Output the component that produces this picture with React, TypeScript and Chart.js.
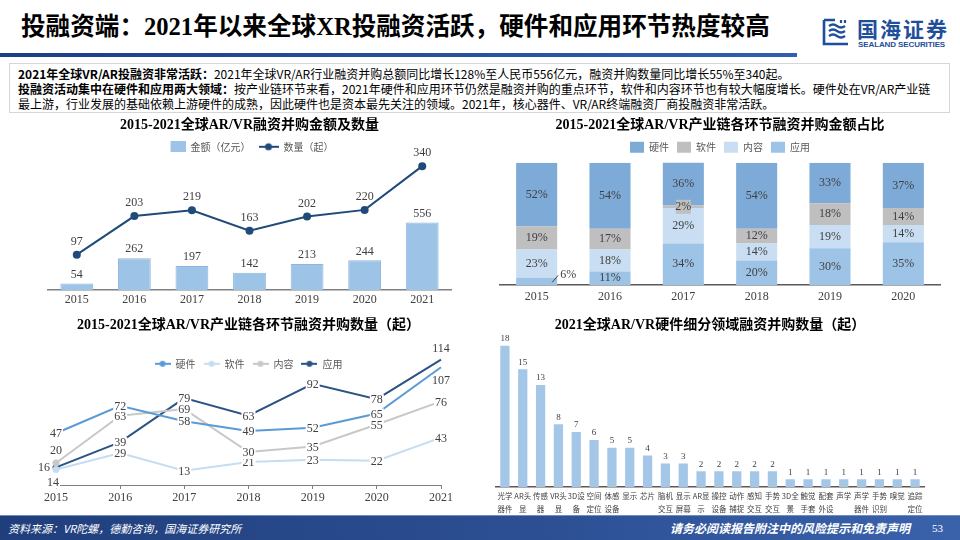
import React, { useEffect, useRef } from 'react';
import { Chart, registerables } from 'chart.js';

Chart.register(...registerables);

const SERIF = '"Liberation Serif", "Times New Roman", "Noto Sans CJK SC", serif';
const SANS = '"Noto Sans CJK SC", "Liberation Sans", sans-serif';
const TITLE_FONT = '"Liberation Serif", "Noto Sans CJK SC", serif';

// ---------- Chart 1: amount & count ----------
const years = ['2015', '2016', '2017', '2018', '2019', '2020', '2021'];
const amountYi = [54, 262, 197, 142, 213, 244, 556];
const dealCount = [97, 203, 219, 163, 202, 220, 340];

// ---------- Chart 2: share by segment ----------
const shareYears = ['2015', '2016', '2017', '2018', '2019', '2020'];
const shareHardware = [52, 54, 36, 54, 33, 37];
const shareSoftware = [19, 17, 2, 12, 18, 14];
const shareContent = [23, 18, 29, 14, 19, 14];
const shareApp = [6, 11, 34, 20, 30, 35];

// ---------- Chart 3: deal count by segment ----------
const cntHardware = [47, 72, 58, 49, 52, 65, 107];
const cntSoftware = [14, 29, 13, 21, 23, 22, 43];
const cntContent = [20, 63, 69, 30, 35, 55, 76];
const cntApp = [16, 39, 79, 63, 92, 78, 114];

// ---------- Chart 4: hardware sub-fields 2021 ----------
const hwSegments = [
  ['光学', '器件'], ['AR头', '显'], ['传感', '器'], ['VR头', '显'], ['3D设', '备'], ['空间', '定位'],
  ['体感', '设备'], ['显示'], ['芯片'], ['脑机', '交互'], ['显示', '屏幕'], ['AR显', '示'],
  ['操控', '设备'], ['动作', '捕捉'], ['感知', '交互'], ['手势', '交互'], ['3D全', '景'], ['触觉', '手套'],
  ['配套', '外设'], ['声学'], ['声学', '器件'], ['手势', '识别'], ['嗅觉'], ['追踪', '定位'],
];
const hwCounts = [18, 15, 13, 8, 7, 6, 5, 5, 4, 3, 3, 2, 2, 2, 2, 2, 1, 1, 1, 1, 1, 1, 1, 1];

const C_HW = '#7EAAD8';
const C_SW = '#BFBFBF';
const C_CT = '#C9DEF2';
const C_AP = '#9DC3E6';

function lineDotImage(color: string, w: number, h: number, r: number) {
  const c = document.createElement('canvas');
  c.width = w; c.height = h;
  const ctx = c.getContext('2d')!;
  ctx.strokeStyle = color; ctx.lineWidth = 2;
  ctx.beginPath(); ctx.moveTo(0, h / 2); ctx.lineTo(w, h / 2); ctx.stroke();
  ctx.fillStyle = color;
  ctx.beginPath(); ctx.arc(w / 2, h / 2, r, 0, Math.PI * 2); ctx.fill();
  return c;
}
function rectImage(color: string, w: number, h: number, bw: number, bh: number) {
  const c = document.createElement('canvas');
  c.width = w; c.height = h;
  const ctx = c.getContext('2d')!;
  ctx.fillStyle = color;
  ctx.fillRect(w - bw, (h - bh) / 2, bw, bh);
  return c;
}

function makeChart1(canvas: HTMLCanvasElement) {
  const imgs = [rectImage(C_AP, 20, 11, 15, 11), lineDotImage('#1F4A7A', 20, 10, 3.5)];
  const labels1 = {
    id: 'labels1',
    afterDatasetsDraw(chart: any) {
      const ctx = chart.ctx;
      ctx.save();
      ctx.font = `12px ${SERIF}`;
      ctx.fillStyle = '#404040';
      ctx.textAlign = 'center';
      ctx.textBaseline = 'middle';
      chart.data.datasets.forEach((ds: any, di: number) => {
        const meta = chart.getDatasetMeta(di);
        meta.data.forEach((el: any, i: number) => {
          const dy = meta.type === 'bar' ? -9 : -13;
          ctx.fillText(String(ds.data[i]), el.x, el.y + dy);
        });
      });
      ctx.restore();
    },
  };
  return new Chart(canvas, {
    type: 'bar',
    data: {
      labels: years,
      datasets: [
        { type: 'bar', label: '金额（亿元）', data: amountYi, backgroundColor: C_AP, borderColor: '#8FB6DC', borderWidth: 1, yAxisID: 'yBar', order: 2, barPercentage: 0.57, categoryPercentage: 1 } as any,
        { type: 'line', label: '数量（起）', data: dealCount, borderColor: '#1F4A7A', backgroundColor: '#1F4A7A', borderWidth: 2, pointRadius: 4, pointBorderWidth: 0, pointBackgroundColor: '#1F4A7A', yAxisID: 'yLine', order: 1, clip: false } as any,
      ],
    },
    options: {
      animation: false,
      responsive: false,
      maintainAspectRatio: false,
      layout: { padding: { left: 48, right: 29, top: 0, bottom: 4.6 } },
      plugins: {
        title: { display: true, text: '2015-2021全球AR/VR融资并购金额及数量', color: '#000', font: { size: 14, weight: 'bold', family: TITLE_FONT }, padding: { top: 2, bottom: 0 } },
        legend: {
          labels: {
            usePointStyle: true, pointStyleWidth: 20, boxHeight: 11, padding: 8,
            color: '#595959', font: { size: 10, family: SANS },
            generateLabels: (chart: any) => chart.data.datasets.map((ds: any, i: number) => ({
              text: ds.label, pointStyle: imgs[i], fillStyle: 'rgba(0,0,0,0)', strokeStyle: 'rgba(0,0,0,0)', lineWidth: 0, hidden: false, datasetIndex: i, fontColor: '#595959',
            })),
          },
        },
        tooltip: { enabled: false },
      },
      scales: {
        x: { grid: { display: false, drawTicks: false }, border: { color: '#808080', width: 1.5 }, ticks: { font: { size: 12, family: SERIF }, color: '#404040', padding: 3 } },
        yBar: { display: false, min: 0, max: 1055 },
        yLine: { display: false, min: 0, max: 352 },
      },
    } as any,
    plugins: [labels1],
  });
}

function makeChart2(canvas: HTMLCanvasElement) {
  const labels2 = {
    id: 'labels2',
    afterDatasetsDraw(chart: any) {
      const ctx = chart.ctx;
      ctx.save();
      ctx.font = `12px ${SERIF}`;
      ctx.textBaseline = 'middle';
      chart.data.datasets.forEach((ds: any, di: number) => {
        const meta = chart.getDatasetMeta(di);
        meta.data.forEach((el: any, i: number) => {
          const v = ds.data[i];
          const top = Math.min(el.y, el.base);
          const bot = Math.max(el.y, el.base);
          const cy = (top + bot) / 2;
          const h = bot - top;
          const text = v + '%';
          if (v <= 3) {
            ctx.fillStyle = C_SW;
            ctx.fillRect(el.x - 7.5, cy - 7, 15, 14);
            ctx.fillStyle = '#404040';
            ctx.textAlign = 'center';
            ctx.fillText(text, el.x, cy);
          } else if (h < 12) {
            const right = el.x + el.width / 2;
            ctx.strokeStyle = '#404040';
            ctx.lineWidth = 1;
            ctx.beginPath();
            ctx.moveTo(right - 5, cy + 1);
            ctx.lineTo(right + 1, cy - 6);
            ctx.stroke();
            ctx.fillStyle = '#404040';
            ctx.textAlign = 'left';
            ctx.fillText(text, right + 3, cy - 6);
          } else {
            ctx.fillStyle = '#404040';
            ctx.textAlign = 'center';
            ctx.fillText(text, el.x, cy);
          }
        });
      });
      ctx.restore();
    },
  };
  const common = { barPercentage: 0.56, categoryPercentage: 1 };
  return new Chart(canvas, {
    type: 'bar',
    data: {
      labels: shareYears,
      datasets: [
        { label: '应用', data: shareApp, backgroundColor: C_AP, ...common },
        { label: '内容', data: shareContent, backgroundColor: C_CT, ...common },
        { label: '软件', data: shareSoftware, backgroundColor: C_SW, ...common },
        { label: '硬件', data: shareHardware, backgroundColor: C_HW, ...common },
      ],
    },
    options: {
      animation: false,
      responsive: false,
      maintainAspectRatio: false,
      layout: { padding: { left: 20, right: 20, top: 0, bottom: 5.6 } },
      plugins: {
        title: { display: true, text: '2015-2021全球AR/VR产业链各环节融资并购金额占比', color: '#000', font: { size: 14, weight: 'bold', family: TITLE_FONT }, padding: { top: 2, bottom: 0 } },
        legend: {
          reverse: true,
          labels: { boxWidth: 14, boxHeight: 11, padding: 8, color: '#595959', font: { size: 10, family: SANS } },
        },
        tooltip: { enabled: false },
      },
      scales: {
        x: { stacked: true, grid: { display: false, drawTicks: false }, border: { color: '#595959', width: 1.5 }, ticks: { font: { size: 12, family: SERIF }, color: '#404040', padding: 5 } },
        y: { stacked: true, display: false, min: 0, max: 100 },
      },
    } as any,
    plugins: [labels2],
  });
}

function makeChart3(canvas: HTMLCanvasElement) {
  const colors = ['#5B9BD5', '#C5DDF2', '#C8C8C8', '#2B5384'];
  const imgs = colors.map((c) => lineDotImage(c, 16, 10, 3));
  const shift: Record<string, [number, number]> = {
    '0-6': [0, 14], '3-6': [0, -11], '2-0': [0, -12], '3-0': [-12, 0], '1-0': [-3, 13],
  };
  const labels3 = {
    id: 'labels3',
    afterDatasetsDraw(chart: any) {
      const ctx = chart.ctx;
      ctx.save();
      ctx.font = `12px ${SERIF}`;
      ctx.textAlign = 'center';
      ctx.textBaseline = 'middle';
      chart.data.datasets.forEach((ds: any, di: number) => {
        const meta = chart.getDatasetMeta(di);
        meta.data.forEach((el: any, i: number) => {
          const s = shift[di + '-' + i] || [0, 1];
          const x = el.x + s[0];
          const y = el.y + s[1];
          const t = String(ds.data[i]);
          const w = ctx.measureText(t).width;
          ctx.fillStyle = '#ffffff';
          ctx.fillRect(x - w / 2 - 1, y - 6, w + 2, 12);
          ctx.fillStyle = '#404040';
          ctx.fillText(t, x, y);
        });
      });
      ctx.restore();
    },
  };
  const mk = (label: string, data: number[], color: string) => ({
    label, data, borderColor: color, backgroundColor: color, pointBackgroundColor: color,
    borderWidth: 2, pointRadius: 3.5, pointBorderWidth: 0, clip: false, tension: 0,
  });
  return new Chart(canvas, {
    type: 'line',
    data: {
      labels: years,
      datasets: [
        mk('硬件', cntHardware, colors[0]),
        mk('软件', cntSoftware, colors[1]),
        mk('内容', cntContent, colors[2]),
        mk('应用', cntApp, colors[3]),
      ],
    },
    options: {
      animation: false,
      responsive: false,
      maintainAspectRatio: false,
      layout: { padding: { left: 56, right: 39, top: 0, bottom: 7.6 } },
      plugins: {
        title: { display: true, text: '2015-2021全球AR/VR产业链各环节融资并购数量（起）', color: '#000', font: { size: 14, weight: 'bold', family: TITLE_FONT }, padding: { top: 2, bottom: 17 } },
        legend: {
          labels: {
            usePointStyle: true, pointStyleWidth: 16, boxHeight: 10, padding: 8,
            color: '#595959', font: { size: 10, family: SANS },
            generateLabels: (chart: any) => chart.data.datasets.map((ds: any, i: number) => ({
              text: ds.label, pointStyle: imgs[i], fillStyle: 'rgba(0,0,0,0)', strokeStyle: 'rgba(0,0,0,0)', lineWidth: 0, hidden: false, datasetIndex: i, fontColor: '#595959',
            })),
          },
        },
        tooltip: { enabled: false },
      },
      scales: {
        x: {
          offset: false,
          grid: { display: true, drawOnChartArea: false, drawTicks: true, tickLength: 4, color: '#7F7F7F' },
          border: { color: '#7F7F7F', width: 1 },
          ticks: { font: { size: 12, family: SERIF }, color: '#404040', padding: 2 },
        },
        y: { display: false, min: 0, max: 96.5 },
      },
    } as any,
    plugins: [labels3],
  });
}

function makeChart4(canvas: HTMLCanvasElement) {
  const labels4 = {
    id: 'labels4',
    afterDatasetsDraw(chart: any) {
      const ctx = chart.ctx;
      ctx.save();
      ctx.font = `9px ${SERIF}`;
      ctx.fillStyle = '#404040';
      ctx.textAlign = 'center';
      ctx.textBaseline = 'middle';
      const meta = chart.getDatasetMeta(0);
      meta.data.forEach((el: any, i: number) => {
        ctx.fillText(String(chart.data.datasets[0].data[i]), el.x, el.y - 7);
      });
      ctx.restore();
    },
  };
  return new Chart(canvas, {
    type: 'bar',
    data: {
      labels: hwSegments as any,
      datasets: [
        { label: '数量', data: hwCounts, backgroundColor: '#A4C7E8', barPercentage: 0.52, categoryPercentage: 1 },
      ],
    },
    options: {
      animation: false,
      responsive: false,
      maintainAspectRatio: false,
      layout: { padding: { left: 16, right: 36, top: 0, bottom: 0.5 } },
      plugins: {
        title: { display: true, text: '2021全球AR/VR硬件细分领域融资并购数量（起）', color: '#000', font: { size: 14, weight: 'bold', family: TITLE_FONT }, padding: { top: 2, bottom: 4 } },
        legend: { display: false },
        tooltip: { enabled: false },
      },
      scales: {
        x: {
          grid: { display: false, drawTicks: false },
          border: { color: '#595959', width: 1.5 },
          ticks: { font: { size: 7.5, family: SANS, lineHeight: 1.7 }, color: '#404040', padding: 3, maxRotation: 0, minRotation: 0, autoSkip: false },
        },
        y: { display: false, min: 0, max: 19 },
      },
    } as any,
    plugins: [labels4],
  });
}

function ChartBox(props: { left: number; top: number; width: number; height: number; make: (c: HTMLCanvasElement) => Chart }) {
  const ref = useRef<HTMLCanvasElement>(null);
  useEffect(() => {
    const chart = props.make(ref.current!);
    return () => chart.destroy();
  }, []);
  return (
    <canvas
      ref={ref}
      width={props.width}
      height={props.height}
      style={{ position: 'absolute', left: props.left, top: props.top, width: props.width, height: props.height, display: 'block' }}
    />
  );
}

function Logo() {
  const blue = '#1F4E9A';
  return (
    <>
      <svg width="30" height="30" viewBox="0 0 30 30" style={{ position: 'absolute', left: 821, top: 17 }}>
        <path d="M3 3 H14 M3 3 V27 H27" stroke={blue} strokeWidth="2.6" fill="none" />
        <path d="M8 9 Q12 6 16 9 T24 9" stroke={blue} strokeWidth="2.2" fill="none" />
        <path d="M8 14 Q12 11 16 14 T24 14" stroke={blue} strokeWidth="2.2" fill="none" />
        <path d="M8 19 Q12 16 16 19 T24 19" stroke={blue} strokeWidth="2.2" fill="none" />
        <path d="M20 3 V6 M24 3 V6" stroke={blue} strokeWidth="2.2" fill="none" />
      </svg>
      <div style={{ position: 'absolute', left: 857, top: 15, fontSize: 21, fontWeight: 700, color: blue, fontFamily: SANS, letterSpacing: 2, lineHeight: '26px', whiteSpace: 'nowrap' }}>国海证券</div>
      <div style={{ position: 'absolute', left: 858, top: 40, fontSize: 8, fontWeight: 700, color: blue, fontFamily: '"Liberation Sans", sans-serif', lineHeight: '10px', whiteSpace: 'nowrap', letterSpacing: -0.1 }}>SEALAND SECURITIES</div>
    </>
  );
}

export default function App() {
  return (
    <div style={{ position: 'fixed', left: 0, top: 0, width: 960, height: 540, background: '#ffffff', overflow: 'hidden', fontFamily: SANS }}>
      <div style={{ position: 'absolute', left: 21, top: 12, fontSize: 24.6, fontWeight: 700, fontFamily: TITLE_FONT, color: '#000', whiteSpace: 'nowrap', lineHeight: '30px' }}>
        投融资端：2021年以来全球XR投融资活跃，硬件和应用环节热度较高
      </div>
      <div style={{ position: 'absolute', left: 0, top: 53, width: 797, height: 4, background: 'linear-gradient(to right, #1d3f86, #2f5fb0)' }} />
      <Logo />
      <div style={{ position: 'absolute', left: 9, top: 63, width: 941, height: 50, border: '1px solid #d6d6d6', boxSizing: 'border-box', padding: '2px 0 0 8px', fontSize: 12, lineHeight: '15px', color: '#000', fontFamily: SANS }}>
        <div style={{ whiteSpace: 'nowrap' }}><b>2021年全球VR/AR投融资非常活跃：</b>2021年全球VR/AR行业融资并购总额同比增长128%至人民币556亿元，融资并购数量同比增长55%至340起。</div>
        <div style={{ whiteSpace: 'nowrap' }}><b>投融资活动集中在硬件和应用两大领域：</b>按产业链环节来看，2021年硬件和应用环节仍然是融资并购的重点环节，软件和内容环节也有较大幅度增长。硬件处在VR/AR产业链</div>
        <div style={{ whiteSpace: 'nowrap' }}>最上游，行业发展的基础依赖上游硬件的成熟，因此硬件也是资本最先关注的领域。2021年，核心器件、VR/AR终端融资厂商投融资非常活跃。</div>
      </div>
      <ChartBox left={0} top={115} width={480} height={200} make={makeChart1} />
      <ChartBox left={480} top={115} width={480} height={200} make={makeChart2} />
      <ChartBox left={0} top={315} width={480} height={200} make={makeChart3} />
      <ChartBox left={480} top={315} width={480} height={204} make={makeChart4} />
      <div style={{ position: 'absolute', left: 0, top: 515, width: 960, height: 25, background: 'linear-gradient(to right, #203e7c, #2c4f93 55%, #3a62ab)', borderTop: '1px solid #6f8cc4', boxSizing: 'border-box' }}>
        <span style={{ position: 'absolute', left: 8, top: 4, fontSize: 11, fontStyle: 'italic', color: '#fff', whiteSpace: 'nowrap', lineHeight: '16px' }}>资料来源：VR陀螺，德勤咨询，国海证券研究所</span>
        <span style={{ position: 'absolute', right: 50, top: 3, fontSize: 12, fontStyle: 'italic', fontWeight: 700, color: '#fff', whiteSpace: 'nowrap', lineHeight: '18px' }}>请务必阅读报告附注中的风险提示和免责声明</span>
        <span style={{ position: 'absolute', left: 932, top: 4, fontSize: 11, color: '#fff', lineHeight: '16px', fontFamily: SERIF }}>53</span>
      </div>
    </div>
  );
}
